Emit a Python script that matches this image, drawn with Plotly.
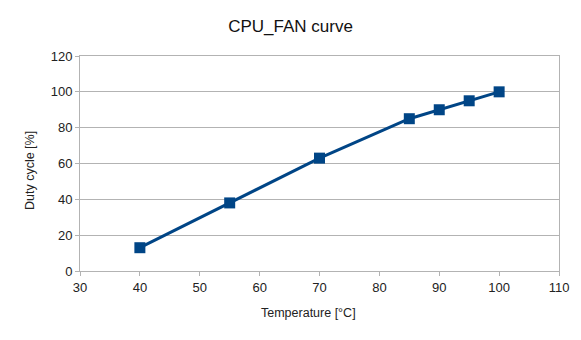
import plotly.graph_objects as go

# Fan curve: temperature (°C) vs duty cycle (%)
temperature = [40, 55, 70, 85, 90, 95, 100]
duty_cycle = [13, 38, 63, 85, 90, 95, 100]

x_ticks = [30, 40, 50, 60, 70, 80, 90, 100, 110]
y_ticks = [0, 20, 40, 60, 80, 100, 120]

line_color = "#004586"
grid_color = "#b3b3b3"
font_family = "Liberation Sans, Arial, sans-serif"

fig = go.Figure(
    go.Scatter(
        x=temperature,
        y=duty_cycle,
        mode="lines+markers",
        line=dict(color=line_color, width=3),
        marker=dict(symbol="square", size=11, color=line_color),
        showlegend=False,
    )
)

axis_common = dict(
    showline=True,
    linecolor=grid_color,
    linewidth=1,
    mirror=True,
    ticks="outside",
    ticklen=4,
    tickcolor=grid_color,
    tickfont=dict(family=font_family, size=13, color="#222"),
    zeroline=False,
)

fig.update_layout(
    width=581,
    height=340,
    margin=dict(l=80, r=22, t=56, b=69),
    paper_bgcolor="white",
    plot_bgcolor="white",
    font=dict(family=font_family, color="#222"),
    title=dict(
        text="CPU_FAN curve",
        x=0.5,
        xanchor="center",
        y=1 - 26 / 340,
        yanchor="middle",
        font=dict(family=font_family, size=17, color="#111"),
    ),
    xaxis=dict(range=[30, 110], tickvals=x_ticks, showgrid=False, **axis_common),
    yaxis=dict(
        range=[0, 120],
        tickvals=y_ticks,
        showgrid=True,
        gridcolor=grid_color,
        gridwidth=1,
        **axis_common,
    ),
    annotations=[
        dict(
            text="Temperature [°C]",
            xref="paper", yref="paper",
            x=0.478, y=0,
            xanchor="center", yanchor="middle",
            yshift=-42,
            showarrow=False,
            font=dict(family=font_family, size=12.5, color="#222"),
        ),
        dict(
            text="Duty cycle [%]",
            xref="paper", yref="paper",
            x=0, y=0.465,
            xanchor="center", yanchor="middle",
            xshift=-50,
            textangle=-90,
            showarrow=False,
            font=dict(family=font_family, size=12.5, color="#222"),
        ),
    ],
)

fig.write_html("out.html")
